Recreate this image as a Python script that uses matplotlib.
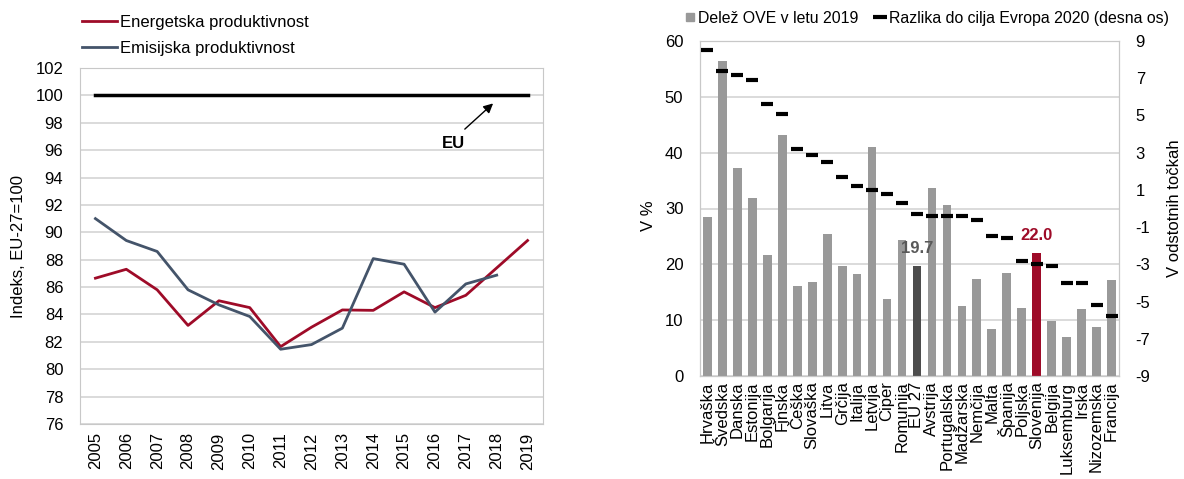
import matplotlib
matplotlib.use("Agg")
from matplotlib import pyplot as plt
from matplotlib.lines import Line2D
import numpy as np

plt.rcParams['font.family'] = ['Liberation Sans', 'DejaVu Sans']
plt.rcParams['axes.unicode_minus'] = False

# left chart: productivity indices, EU-27 = 100
years = [str(y) for y in range(2005, 2020)]
energy = [86.65, 87.3, 85.8, 83.2, 85.0, 84.5, 81.65, 83.07, 84.33, 84.3, 85.65, 84.5, 85.4, 87.4, 89.4]
emission = [91.0, 89.4, 88.6, 85.8, 84.7, 83.85, 81.46, 81.8, 83.0, 88.08, 87.67, 84.17, 86.23, 86.87]
eu_level = 100

# right chart: renewable share 2019 and gap to Europe 2020 target
countries = ["Hrvaška", "Švedska", "Danska", "Estonija", "Bolgarija", "Finska", "Češka",
             "Slovaška", "Litva", "Grčija", "Italija", "Letvija", "Ciper", "Romunija",
             "EU 27", "Avstrija", "Portugalska", "Madžarska", "Nemčija", "Malta", "Španija",
             "Poljska", "Slovenija", "Belgija", "Luksemburg", "Irska", "Nizozemska", "Francija"]
share = [28.5, 56.4, 37.2, 31.9, 21.6, 43.1, 16.2, 16.9, 25.5, 19.7, 18.2, 41.0, 13.8, 24.3,
         19.7, 33.6, 30.6, 12.6, 17.4, 8.5, 18.4, 12.2, 22.0, 9.9, 7.0, 12.0, 8.8, 17.2]
gap = [8.5, 7.4, 7.2, 6.9, 5.6, 5.1, 3.2, 2.9, 2.5, 1.7, 1.2, 1.0, 0.8, 0.3,
       -0.3, -0.4, -0.4, -0.4, -0.6, -1.5, -1.6, -2.8, -3.0, -3.1, -4.0, -4.0, -5.2, -5.8]

RED = '#9e0b28'
SLATE = '#44546a'
BAR = '#999999'
DARK = '#4d4d4d'
GRID = '#d4d4d4'
FRAME = '#c8c8c8'
FS = 12

W, H = 1184, 479
fig = plt.figure(figsize=(W / 100, H / 100), dpi=100)

# ---- left chart
ax1 = fig.add_axes([80 / W, 1 - 424 / H, 463 / W, 356 / H])
x1 = np.arange(len(years))
ax1.plot(x1, [eu_level] * len(years), color='black', lw=2.5, zorder=3)
l_en, = ax1.plot(x1, energy, color=RED, lw=2, zorder=4)
l_em, = ax1.plot(x1[:len(emission)], emission, color=SLATE, lw=2, zorder=4)
ax1.set_xlim(-0.5, len(years) - 0.5)
ax1.set_ylim(76, 102)
ax1.set_yticks(np.arange(76, 103, 2))
ax1.set_xticks(x1)
ax1.set_xticklabels(years, rotation=90)
ax1.yaxis.grid(True, color=GRID, lw=1.2)
ax1.set_axisbelow(True)
ax1.tick_params(length=0, labelsize=FS)
ax1.tick_params(axis='y', pad=12)
ax1.tick_params(axis='x', pad=6)
for s in ax1.spines.values():
    s.set_color(FRAME)
ax1.set_ylabel("Indeks, EU-27=100", fontsize=FS)
ax1.yaxis.set_label_coords(-0.117, 0.5)
ax1.annotate('', xy=(12.95, 99.55), xytext=(11.9, 97.4),
             arrowprops=dict(arrowstyle='-|>', color='black', lw=1, mutation_scale=14))
ax1.text(11.6, 96.5, 'EU', fontsize=FS, fontweight='bold', ha='center', va='center')
fig.legend([l_en, l_em], ["Energetska produktivnost", "Emisijska produktivnost"],
           loc='upper left', bbox_to_anchor=(82 / W, 1 - 15 / H), frameon=False,
           fontsize=FS, handlelength=2.1, handletextpad=0.18, labelspacing=0.66,
           borderpad=0, borderaxespad=0)

# ---- right chart
ax2 = fig.add_axes([700 / W, 1 - 376 / H, 419 / W, 335 / H])
x2 = np.arange(len(countries))
colors = [BAR] * len(countries)
colors[countries.index("EU 27")] = DARK
colors[countries.index("Slovenija")] = RED
ax2.bar(x2, share, width=0.58, color=colors, zorder=2)
ax2.set_xlim(-0.5, len(countries) - 0.5)
ax2.set_ylim(0, 60)
ax2.set_yticks(np.arange(0, 61, 10))
ax2.set_xticks(x2)
ax2.set_xticklabels(countries, rotation=90)
ax2.yaxis.grid(True, color=GRID, lw=1.2)
ax2.set_axisbelow(True)
ax2.tick_params(length=0, labelsize=FS)
ax2.tick_params(axis='y', pad=12)
ax2.tick_params(axis='x', pad=4)
ax2.set_ylabel("V %", fontsize=FS)
ax2.yaxis.set_label_coords(-0.105, 0.48)

i_eu = countries.index("EU 27")
i_si = countries.index("Slovenija")
ax2.annotate(f"{share[i_eu]:.1f}", xy=(i_eu, share[i_eu]), xytext=(0, 9.5),
             textcoords='offset points', color='#595959', fontsize=FS, fontweight='bold',
             ha='center', va='baseline', zorder=5)
ax2.annotate(f"{share[i_si]:.1f}", xy=(i_si, share[i_si]), xytext=(0, 9.5),
             textcoords='offset points', color=RED, fontsize=FS, fontweight='bold',
             ha='center', va='baseline', zorder=5)

ax2r = ax2.twinx()
ax2r.plot(x2, gap, ls='none', marker='_', ms=9, mew=3, color='black', zorder=6)
ax2r.set_ylim(-9, 9)
ax2r.set_yticks(np.arange(-9, 10, 2))
ax2r.tick_params(length=0, labelsize=FS, pad=12)
ax2r.set_ylabel("V odstotnih točkah", fontsize=FS)
ax2r.yaxis.set_label_coords(1.115, 0.5)
for a in (ax2, ax2r):
    for s in a.spines.values():
        s.set_color(FRAME)
ax2.spines['bottom'].set_color('#a6a6a6')

LFS = 11.4
h_bar = Line2D([], [], ls='none', marker='s', ms=6, color=BAR)
h_gap = Line2D([], [], ls='none', marker='_', ms=10, mew=3, color='black')
fig.legend([h_bar, h_gap], ["Delež OVE v letu 2019", "Razlika do cilja Evropa 2020 (desna os)"],
           loc='upper left', bbox_to_anchor=(684 / W, 1 - 11 / H), ncol=2, frameon=False,
           fontsize=LFS, handlelength=0.7, handletextpad=0.2, columnspacing=1.0,
           borderpad=0, borderaxespad=0)

fig.savefig("out.png", dpi=100)
